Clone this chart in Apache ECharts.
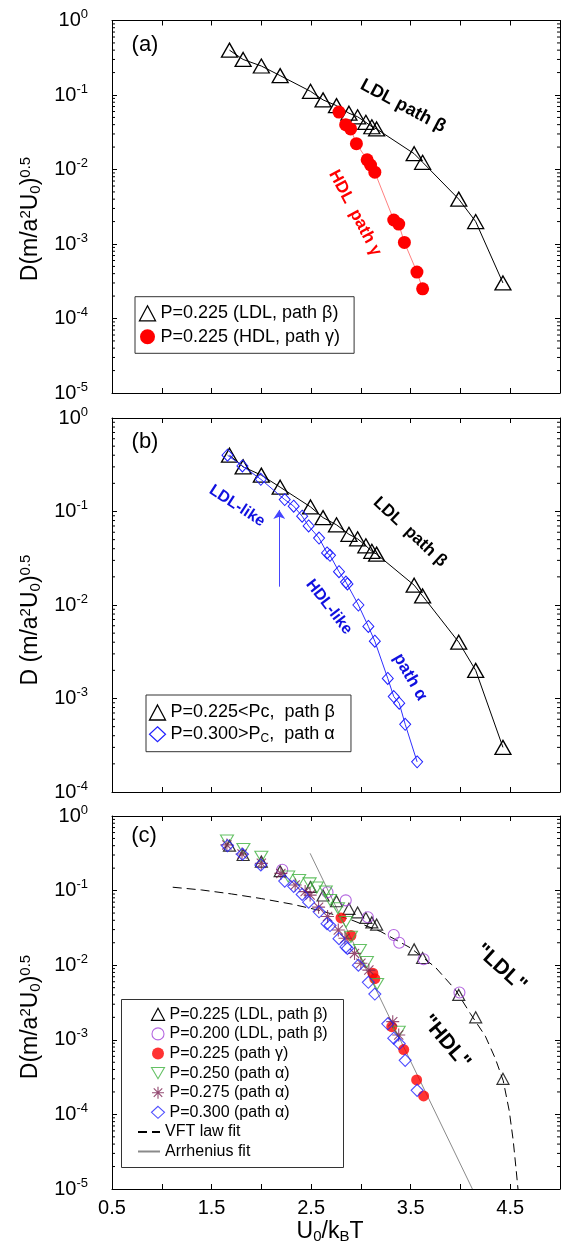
<!DOCTYPE html>
<html><head><meta charset="utf-8">
<script src="https://cdn.jsdelivr.net/npm/echarts@6/dist/echarts.min.js"></script>
<style>html,body{margin:0;padding:0;background:#fff;}#chart{width:566px;height:1249px;}</style>
</head><body><div id="chart"></div>
<script>
// ---------------- data ----------------
const xTickLabels = ['0.5', '1.5', '2.5', '3.5', '4.5'];
// P=0.225 LDL path beta (panels a, b, c)
const ldlX = [1.68, 1.817, 2.0, 2.189, 2.494, 2.62, 2.755, 2.88, 2.967, 3.05, 3.11, 3.158, 3.535, 3.62, 3.983, 4.153, 4.427];
const ldlY = [0.40, 0.30, 0.245, 0.182, 0.112, 0.086, 0.072, 0.057, 0.051, 0.043, 0.0375, 0.035, 0.0163, 0.0125, 0.0040, 0.0020, 0.00030];
// P=0.225 HDL path gamma (panel a)
const hdlAX = [2.78, 2.847, 2.897, 2.955, 3.063, 3.097, 3.14, 3.33, 3.38, 3.437, 3.563, 3.62];
const hdlAY = [0.059, 0.040, 0.035, 0.0222, 0.0135, 0.0115, 0.0092, 0.0021, 0.00185, 0.00105, 0.00042, 0.00025];
// P=0.300 path alpha (panels b, c)
const p300X = [1.66, 1.81, 1.995, 2.235, 2.325, 2.41, 2.475, 2.58, 2.66, 2.69, 2.78, 2.85, 2.865, 2.975, 3.075, 3.14, 3.27, 3.33, 3.385, 3.445, 3.565];
const p300Y = [0.40, 0.307, 0.221, 0.134, 0.114, 0.089, 0.070, 0.052, 0.036, 0.034, 0.0227, 0.0176, 0.0168, 0.0100, 0.0059, 0.0041, 0.00164, 0.00105, 0.00089, 0.00053, 0.00021];
// arrow in panel b
const arrowX = [2.18, 2.18];
const arrowY = [0.0157, 0.104];
// panel c extra series
const p200X = [2.21, 2.665, 2.848, 3.07, 3.33, 3.385, 3.63, 3.99];
const p200Y = [0.19, 0.095, 0.074, 0.044, 0.0254, 0.020, 0.012, 0.0043];
const p225cX = [2.80, 2.90, 3.12, 3.14, 3.31, 3.43, 3.56, 3.63];
const p225cY = [0.043, 0.025, 0.0078, 0.0066, 0.0015, 0.00074, 0.00029, 0.000177];
const p250X = [1.655, 1.82, 2.0, 2.27, 2.38, 2.485, 2.557, 2.647, 2.69, 2.77, 2.85, 2.90, 2.99, 3.06, 3.163, 3.38];
const p250Y = [0.47, 0.36, 0.285, 0.154, 0.139, 0.125, 0.11, 0.097, 0.075, 0.058, 0.038, 0.024, 0.016, 0.011, 0.0056, 0.00128];
const p275X = [1.654, 1.806, 2.0, 2.196, 2.34, 2.44, 2.49, 2.575, 2.665, 2.773, 2.84, 2.936, 3.0, 3.08, 3.32, 3.38];
const p275Y = [0.41, 0.31, 0.232, 0.17, 0.119, 0.097, 0.087, 0.06, 0.045, 0.0296, 0.023, 0.0144, 0.0106, 0.0086, 0.00175, 0.00116];
// fitted curves
const vftX = [1.11, 1.4, 1.7, 2.0, 2.3, 2.6, 2.9, 3.2, 3.5, 3.75, 3.95, 4.1, 4.25, 4.35, 4.43, 4.49, 4.53, 4.56, 4.578];
const vftY = [0.111, 0.102, 0.0902, 0.0782, 0.0661, 0.0537, 0.0407, 0.0282, 0.0170, 0.00933, 0.00468, 0.00224, 0.00112, 0.000562, 0.000282, 0.000112, 4.47e-5, 1.78e-5, 1e-5];
const arrX = [2.49, 4.12];
const arrY = [0.316, 1e-5];

// ---------------- names ----------------
const N_LDL = 'P=0.225 (LDL, path β)';
const N_HDLA = 'P=0.225 (HDL, path γ)';
const N_LDLB = 'P=0.225<Pc,  path β';
const N_P300B = 'P=0.300>PC,  path α';
const N_P200 = 'P=0.200 (LDL, path β)';
const N_P225C = 'P=0.225 (path γ)';
const N_P250 = 'P=0.250 (path α)';
const N_P275 = 'P=0.275 (path α)';
const N_P300C = 'P=0.300 (path α)';
const N_VFT = 'VFT law fit';
const N_ARR = 'Arrhenius fit';

const FONT = "'Liberation Sans', Arial, Helvetica, sans-serif";
const pairs = (xs, ys) => xs.map((x, i) => [x, ys[i]]);
const INV_TRI = 'path://M0,0L10,0L5,8.66Z';
const STAR = 'path://M5,0L5,10M0,5L10,5M1.46,1.46L8.54,8.54M8.54,1.46L1.46,8.54';

const grids = [
  {left: 112, top: 20.5, width: 448, height: 372.5},
  {left: 112, top: 418, width: 448, height: 374},
  {left: 112, top: 816, width: 448, height: 373}
];
const yMins = [1e-5, 1e-4, 1e-5];

const axLine = {show: true, onZero: false, lineStyle: {color: '#000', width: 1}};
const axTick = {show: true, inside: true, length: 5, lineStyle: {color: '#000', width: 1}};
const xAxis = [], yAxis = [];
grids.forEach((g, i) => {
  xAxis.push({type: 'value', gridIndex: i, position: 'bottom', min: 0.5, max: 5, interval: 0.5,
    axisLine: axLine, axisTick: axTick, splitLine: {show: false},
    axisLabel: {show: i === 2, margin: 9, fontSize: 20, fontFamily: FONT, color: '#000',
      showMinLabel: true, showMaxLabel: true,
      formatter: v => xTickLabels.includes(v.toFixed(1)) ? v.toFixed(1) : ''}});
  xAxis.push({type: 'value', gridIndex: i, position: 'top', min: 0.5, max: 5, interval: 0.5,
    axisLine: axLine, axisTick: axTick, splitLine: {show: false}, axisLabel: {show: false}});
  yAxis.push({type: 'log', logBase: 10, gridIndex: i, position: 'left', min: yMins[i], max: 1,
    axisLine: axLine, axisTick: axTick, splitLine: {show: false}, minorTick: {show: false},
    axisLabel: {margin: 24, fontSize: 20, fontFamily: FONT, color: '#000', showMinLabel: true, showMaxLabel: true,
      formatter: v => '10{s|' + Math.round(Math.log10(v)) + '}',
      rich: {s: {fontSize: 13, fontFamily: FONT, color: '#000', padding: [0, 0, 12, 0]}}}});
  yAxis.push({type: 'log', logBase: 10, gridIndex: i, position: 'right', min: yMins[i], max: 1,
    axisLine: axLine, axisTick: axTick, splitLine: {show: false}, axisLabel: {show: false}});
});

// minor log ticks (decoration, drawn through the log scale)
function minorVals(minExp) {
  const out = [];
  for (let e = minExp; e < 0; e++) for (let m = 2; m <= 9; m++) out.push([0.5, m * Math.pow(10, e)]);
  return out;
}
function minorSeries(i, minExp) {
  return {type: 'custom', xAxisIndex: 2 * i, yAxisIndex: 2 * i, silent: true, z: 1,
    data: minorVals(minExp), encode: {x: 0, y: 1},
    renderItem: (params, api) => {
      const p = api.coord([api.value(0), api.value(1)]);
      const cs = params.coordSys;
      return {type: 'group', children: [
        {type: 'line', shape: {x1: cs.x, y1: p[1], x2: cs.x + 3, y2: p[1]}, style: {stroke: '#000', lineWidth: 1}},
        {type: 'line', shape: {x1: cs.x + cs.width - 3, y1: p[1], x2: cs.x + cs.width, y2: p[1]}, style: {stroke: '#000', lineWidth: 1}}
      ]};
    }};
}

const noEmph = {disabled: true};
const series = [
  minorSeries(0, -5), minorSeries(1, -4), minorSeries(2, -5),
  // panel a
  {name: N_LDL, type: 'line', xAxisIndex: 0, yAxisIndex: 0, data: pairs(ldlX, ldlY), symbol: 'triangle', symbolSize: [16, 14],
    itemStyle: {color: 'none', borderColor: '#000', borderWidth: 1.3}, lineStyle: {color: '#000', width: 1}, emphasis: noEmph, z: 3},
  {name: N_HDLA, type: 'line', xAxisIndex: 0, yAxisIndex: 0, data: pairs(hdlAX, hdlAY), symbol: 'circle', symbolSize: 13,
    itemStyle: {color: '#ff0000', borderWidth: 0}, lineStyle: {color: '#ff6060', width: 0.8}, emphasis: noEmph, z: 4},
  // panel b
  {name: N_LDLB, type: 'line', xAxisIndex: 2, yAxisIndex: 2, data: pairs(ldlX, ldlY), symbol: 'triangle', symbolSize: [16, 14],
    itemStyle: {color: 'none', borderColor: '#000', borderWidth: 1.3}, lineStyle: {color: '#000', width: 1}, emphasis: noEmph, z: 3},
  {name: N_P300B, type: 'line', xAxisIndex: 2, yAxisIndex: 2, data: pairs(p300X, p300Y), symbol: 'diamond', symbolSize: [11, 12],
    itemStyle: {color: 'none', borderColor: '#2020ff', borderWidth: 1}, lineStyle: {color: '#3030ff', width: 1}, emphasis: noEmph, z: 4},
  {type: 'lines', coordinateSystem: 'cartesian2d', xAxisIndex: 2, yAxisIndex: 2, silent: true, z: 4,
    data: [{coords: pairs(arrowX, arrowY)}], symbol: ['none', 'arrow'], symbolSize: 9,
    lineStyle: {color: '#4545ff', width: 1, opacity: 1}},
  // panel c
  {name: N_VFT, type: 'line', xAxisIndex: 4, yAxisIndex: 4, data: pairs(vftX, vftY), symbol: 'none', smooth: false,
    lineStyle: {color: '#000', width: 1, type: [9, 5]}, emphasis: noEmph, z: 2},
  {name: N_ARR, type: 'line', xAxisIndex: 4, yAxisIndex: 4, data: pairs(arrX, arrY), symbol: 'none',
    lineStyle: {color: '#8a8a8a', width: 1}, emphasis: noEmph, z: 2},
  {name: N_LDL, type: 'scatter', xAxisIndex: 4, yAxisIndex: 4, data: pairs(ldlX, ldlY), symbol: 'triangle', symbolSize: [12, 11],
    itemStyle: {color: 'none', borderColor: '#000', borderWidth: 1.2}, emphasis: noEmph, z: 3},
  {name: N_P200, type: 'scatter', xAxisIndex: 4, yAxisIndex: 4, data: pairs(p200X, p200Y), symbol: 'circle', symbolSize: 11,
    itemStyle: {color: 'none', borderColor: '#a040d8', borderWidth: 1.1}, emphasis: noEmph, z: 3},
  {name: N_P225C, type: 'scatter', xAxisIndex: 4, yAxisIndex: 4, data: pairs(p225cX, p225cY), symbol: 'circle', symbolSize: 11,
    itemStyle: {color: '#ff0000', borderWidth: 0}, emphasis: noEmph, z: 3},
  {name: N_P250, type: 'scatter', xAxisIndex: 4, yAxisIndex: 4, data: pairs(p250X, p250Y), symbol: INV_TRI, symbolSize: [13, 11],
    itemStyle: {color: 'none', borderColor: '#3fb23f', borderWidth: 1.1}, emphasis: noEmph, z: 3},
  {name: N_P275, type: 'scatter', xAxisIndex: 4, yAxisIndex: 4, data: pairs(p275X, p275Y), symbol: STAR, symbolSize: 13,
    itemStyle: {color: 'none', borderColor: '#7a1f50', borderWidth: 1.1}, emphasis: noEmph, z: 3},
  {name: N_P300C, type: 'scatter', xAxisIndex: 4, yAxisIndex: 4, data: pairs(p300X, p300Y), symbol: 'diamond', symbolSize: [12, 12],
    itemStyle: {color: 'none', borderColor: '#2020ff', borderWidth: 1.1}, emphasis: noEmph, z: 3}
];

const legText = (fs, lh) => ({fontSize: fs, fontFamily: FONT, color: '#000', lineHeight: lh,
  rich: {b: {fontSize: Math.round(fs * 0.65), fontFamily: FONT, color: '#000', padding: [8, 0, 0, 0]}}});
const hidden = {color: 'none', borderColor: 'none', borderWidth: 0, opacity: 0};
const legend = [
  {orient: 'vertical', left: 135, top: 296.7, itemWidth: 16, itemHeight: 15, itemGap: 3.4, padding: [6.6, 14, 6.6, 2],
    borderColor: '#333', borderWidth: 1, backgroundColor: '#fff', selectedMode: false, textStyle: legText(18, 20), z: 8,
    data: [
      {name: N_LDL, icon: 'triangle', itemStyle: {color: 'none', borderColor: '#000', borderWidth: 1.3}},
      {name: N_HDLA, icon: 'circle', itemStyle: {color: '#ff0000', borderWidth: 0}}]},
  {orient: 'vertical', left: 146, top: 695, itemWidth: 16, itemHeight: 15, itemGap: 1.7, padding: [7.5, 16, 7.5, 1],
    borderColor: '#333', borderWidth: 1, backgroundColor: '#fff', selectedMode: false, textStyle: legText(18, 20), z: 8,
    formatter: n => n === N_P300B ? 'P=0.300>P{b|C},  path α' : n,
    data: [
      {name: N_LDLB, icon: 'triangle', itemStyle: {color: 'none', borderColor: '#000', borderWidth: 1.3}},
      {name: N_P300B, icon: 'diamond', itemStyle: {color: 'none', borderColor: '#2020ff', borderWidth: 1.2}}]},
  // panel c legend: symbol rows
  {orient: 'vertical', left: 149, top: 1004.5, itemWidth: 13, itemHeight: 12, itemGap: 0, padding: 0, z: 8,
    selectedMode: false, textStyle: legText(16, 19.6),
    data: [
      {name: N_LDL, icon: 'triangle', itemStyle: {color: 'none', borderColor: '#000', borderWidth: 1.2}},
      {name: N_P200, icon: 'circle', itemStyle: {color: 'none', borderColor: '#a040d8', borderWidth: 1.1}},
      {name: N_P225C, icon: 'circle', itemStyle: {color: '#ff0000', borderWidth: 0}},
      {name: N_P250, icon: INV_TRI, itemStyle: {color: 'none', borderColor: '#3fb23f', borderWidth: 1.1}},
      {name: N_P275, icon: STAR, itemStyle: {color: 'none', borderColor: '#7a1f50', borderWidth: 1.1}},
      {name: N_P300C, icon: 'diamond', itemStyle: {color: 'none', borderColor: '#2020ff', borderWidth: 1.1}}]},
  // panel c legend: line rows
  {orient: 'vertical', left: 137, top: 1122.1, itemWidth: 22, itemHeight: 12, itemGap: 0, padding: 0, z: 8,
    selectedMode: false, textStyle: legText(16, 19.6),
    data: [{name: N_VFT, itemStyle: hidden}, {name: N_ARR, itemStyle: hidden}]}
];

function txt(text, x, y, deg, size, color, weight) {
  return {type: 'text', x: x, y: y, rotation: -deg * Math.PI / 180, silent: true, z: 20,
    style: {text: text, fontSize: size, fontWeight: weight || 'bold', fontFamily: FONT, fill: color,
      align: 'center', verticalAlign: 'middle'}};
}
const titleRich = {
  s: {fontSize: 15, fontFamily: FONT, fill: '#000', padding: [0, 0, 11, 0]},
  b: {fontSize: 15, fontFamily: FONT, fill: '#000', padding: [10, 0, 0, 0]}
};
function ytitle(text, y) {
  return {type: 'text', x: 31, y: y, rotation: Math.PI / 2, silent: true, z: 20,
    style: {text: text, fontSize: 23, fontFamily: FONT, fill: '#000', align: 'center', verticalAlign: 'middle', rich: titleRich}};
}
const graphic = [
  {type: 'rect', silent: true, z: 0, shape: {x: 121.5, y: 999.5, width: 222, height: 168},
    style: {fill: 'none', stroke: '#333', lineWidth: 1}},
  txt('(a)', 145, 45, 0, 22, '#000', 'normal'),
  txt('(b)', 145, 442, 0, 22, '#000', 'normal'),
  txt('(c)', 144, 836, 0, 22, '#000', 'normal'),
  txt('LDL path β', 403, 106, 28, 18, '#000'),
  txt('HDL  path γ', 355, 213, 62, 17, '#ff0000'),
  txt('LDL-like', 237, 506, 33, 16, '#1010e0'),
  txt('HDL-like', 329, 607, 52, 16, '#1010e0'),
  txt('path α', 410, 677, 60, 17, '#1010e0'),
  txt('LDL  path β', 410, 532, 43, 17, '#000'),
  txt('"LDL"', 501, 968, 42, 21, '#000'),
  txt('"HDL"', 446, 1042, 50, 21, '#000'),
  ytitle('D(m/a{s|2}U{b|0}){s|0.5}', 219),
  ytitle('D (m/a{s|2}U{b|0}){s|0.5}', 620),
  ytitle('D(m/a{s|2}U{b|0}){s|0.5}', 1017),
  {type: 'text', x: 330, y: 1232, silent: true, z: 20,
    style: {text: 'U{b|0}/k{b|B}T', fontSize: 23, fontFamily: FONT, fill: '#000', align: 'center', verticalAlign: 'middle', rich: titleRich}}
];

const chart = echarts.init(document.getElementById('chart'), null, {renderer: 'canvas'});
chart.setOption({animation: false, backgroundColor: '#fff', grid: grids, xAxis: xAxis, yAxis: yAxis,
  legend: legend, series: series, graphic: graphic, tooltip: {show: false}});
</script>
</body></html>
